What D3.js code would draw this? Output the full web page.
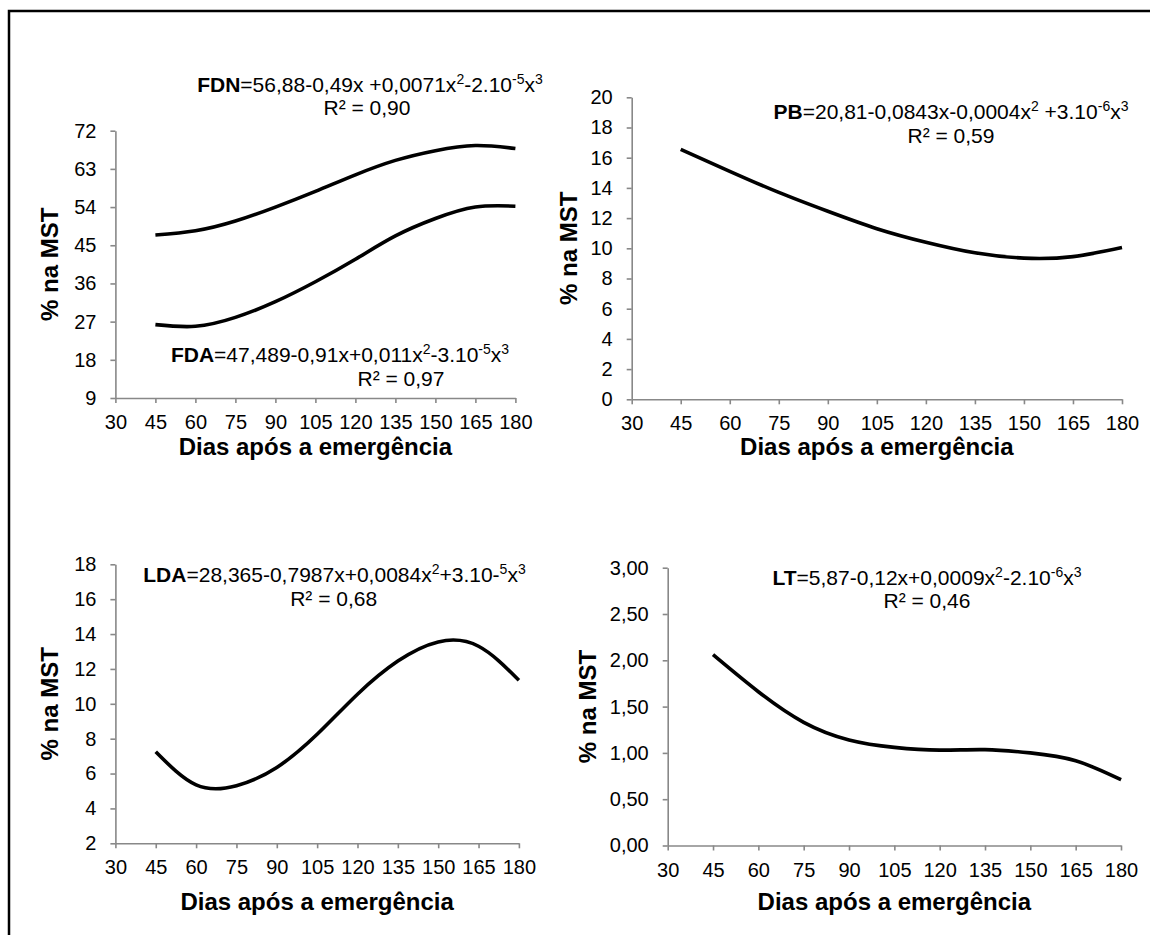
<!DOCTYPE html>
<html>
<head>
<meta charset="utf-8">
<script src="https://cdn.jsdelivr.net/npm/d3@7"></script>
<style>
  body { margin: 0; background: #fff; }
  svg { display: block; }
  text { font-family: "Liberation Sans", Arial, sans-serif; fill: #000; }
</style>
</head>
<body>
<div id="chart"></div>
<script>
// ========= Data ========= //
const days = [45, 60, 75, 90, 105, 120, 135, 150, 165, 180];
const fdnValues = [47.4, 48.4, 50.7, 54.0, 57.7, 61.6, 65.0, 67.3, 68.5, 67.8];
const fdaValues = [26.3, 25.9, 28.0, 31.7, 36.4, 41.7, 47.2, 51.3, 54.0, 54.2];
const pbValues = [16.55, 15.1, 13.7, 12.45, 11.3, 10.4, 9.7, 9.35, 9.45, 10.05];
const ldaValues = [7.25, 5.35, 5.3, 6.35, 8.25, 10.55, 12.45, 13.55, 13.3, 11.35];
const ltValues = [2.06, 1.66, 1.33, 1.14, 1.06, 1.03, 1.035, 1.0, 0.915, 0.71];

const dayTicks = [30, 45, 60, 75, 90, 105, 120, 135, 150, 165, 180];
const fdTicks = [9, 18, 27, 36, 45, 54, 63, 72];
const pbTicks = [0, 2, 4, 6, 8, 10, 12, 14, 16, 18, 20];
const ldaTicks = [2, 4, 6, 8, 10, 12, 14, 16, 18];
const ltTicks = [0, 0.5, 1, 1.5, 2, 2.5, 3];

const fdnEq = [['FDN', 'b'], ['=56,88-0,49x +0,0071x'], ['2', 's'], ['-2.10'], ['-5', 's'], ['x'], ['3', 's']];
const fdaEq = [['FDA', 'b'], ['=47,489-0,91x+0,011x'], ['2', 's'], ['-3.10'], ['-5', 's'], ['x'], ['3', 's']];
const pbEq = [['PB', 'b'], ['=20,81-0,0843x-0,0004x'], ['2', 's'], [' +3.10'], ['-6', 's'], ['x'], ['3', 's']];
const ldaEq = [['LDA', 'b'], ['=28,365-0,7987x+0,0084x'], ['2', 's'], ['+3.10-'], ['5', 's'], ['x'], ['3', 's']];
const ltEq = [['LT', 'b'], ['=5,87-0,12x+0,0009x'], ['2', 's'], ['-2.10'], ['-6', 's'], ['x'], ['3', 's']];

const xTitle = 'Dias após a emergência';
const yTitle = '% na MST';

// ========= Setup ========= //
const width = 1150;
const height = 935;
const axisColor = '#888888';
const br = d3.formatLocale({ decimal: ',', thousands: '.', grouping: [3], currency: ['R$', ''] });

const panels = [
  {
    left: 115.4, right: 515.4, top: 130.7, bottom: 398, yTitleX: 50, titleY: 455,
    yDomain: [9, 72], yTicks: fdTicks, fmt: br.format('d'),
    series: [fdnValues, fdaValues],
    notes: [
      { x: 370, y: 91.7, parts: fdnEq },
      { x: 367, y: 115, parts: [['R² = 0,90']] },
      { x: 340, y: 361.7, parts: fdaEq },
      { x: 401, y: 386, parts: [['R² = 0,97']] }
    ]
  },
  {
    left: 631.7, right: 1122, top: 97.3, bottom: 399.3, yTitleX: 569, titleY: 455,
    yDomain: [0, 20], yTicks: pbTicks, fmt: br.format('d'),
    series: [pbValues],
    notes: [
      { x: 951, y: 119.3, parts: pbEq },
      { x: 951, y: 143.3, parts: [['R² = 0,59']] }
    ]
  },
  {
    left: 115.4, right: 518.9, top: 564.3, bottom: 843.3, yTitleX: 50, titleY: 910,
    yDomain: [2, 18], yTicks: ldaTicks, fmt: br.format('d'),
    series: [ldaValues],
    notes: [
      { x: 334.5, y: 581.7, parts: ldaEq },
      { x: 333.7, y: 606, parts: [['R² = 0,68']] }
    ]
  },
  {
    left: 667.7, right: 1121, top: 567.7, bottom: 845.5, yTitleX: 588, titleY: 910,
    yDomain: [0, 3], yTicks: ltTicks, fmt: br.format('.2f'),
    series: [ltValues],
    notes: [
      { x: 927, y: 585, parts: ltEq },
      { x: 927, y: 608.3, parts: [['R² = 0,46']] }
    ]
  }
];

const svg = d3.select('#chart').append('svg')
  .attr('width', width)
  .attr('height', height);

// outer frame, runs off the right and bottom edge
svg.append('rect')
  .attr('x', 9).attr('y', 11)
  .attr('width', width).attr('height', height)
  .attr('fill', 'none')
  .attr('stroke', '#000')
  .attr('stroke-width', 2.5);

function drawNote(g, note) {
  const text = g.append('text')
    .attr('x', note.x).attr('y', note.y)
    .attr('text-anchor', 'middle')
    .attr('font-size', 21);
  let shifted = false;
  note.parts.forEach(([t, kind]) => {
    const span = text.append('tspan').text(t);
    if (kind === 'b') span.attr('font-weight', 'bold');
    if (kind === 's') {
      span.attr('font-size', 14);
      if (!shifted) span.attr('dy', -8);
      shifted = true;
    } else if (shifted) {
      span.attr('dy', 8);
      shifted = false;
    }
  });
}

panels.forEach((p) => {
  const g = svg.append('g');

  const x = d3.scaleLinear().domain([30, 180]).range([p.left, p.right]);
  const y = d3.scaleLinear().domain(p.yDomain).range([p.bottom, p.top]);

  // ========= Axes ========= //
  const xAxis = g.append('g')
    .attr('transform', `translate(0 ${p.bottom})`)
    .call(d3.axisBottom(x).tickValues(dayTicks).tickSize(5).tickSizeOuter(0).tickPadding(12));

  const yAxis = g.append('g')
    .attr('transform', `translate(${p.left} 0)`)
    .call(d3.axisLeft(y).tickValues(p.yTicks).tickFormat(p.fmt).tickSize(5).tickSizeOuter(0).tickPadding(14));

  [xAxis, yAxis].forEach((a) => {
    a.select('.domain').attr('stroke', axisColor).attr('stroke-width', 1.6);
    a.selectAll('.tick line').attr('stroke', axisColor).attr('stroke-width', 1.6);
    a.selectAll('.tick text')
      .attr('fill', '#000')
      .attr('font-size', 20)
      .attr('font-family', '"Liberation Sans", Arial, sans-serif');
  });

  // ========= Titles ========= //
  g.append('text')
    .attr('x', (p.left + p.right) / 2)
    .attr('y', p.titleY)
    .attr('text-anchor', 'middle')
    .attr('font-size', 24)
    .attr('font-weight', 'bold')
    .text(xTitle);

  g.append('text')
    .attr('transform', `translate(${p.yTitleX} ${(p.top + p.bottom) / 2}) rotate(-90)`)
    .attr('text-anchor', 'middle')
    .attr('dy', '0.35em')
    .attr('font-size', 24)
    .attr('font-weight', 'bold')
    .text(yTitle);

  // ========= Curves ========= //
  const line = d3.line()
    .x((d, i) => x(days[i]))
    .y((d) => y(d))
    .curve(d3.curveNatural);

  g.selectAll('.curve')
    .data(p.series)
    .join('path')
    .attr('class', 'curve')
    .attr('fill', 'none')
    .attr('stroke', '#000')
    .attr('stroke-width', 3.6)
    .attr('d', line);

  p.notes.forEach((n) => drawNote(g, n));
});
</script>
</body>
</html>
